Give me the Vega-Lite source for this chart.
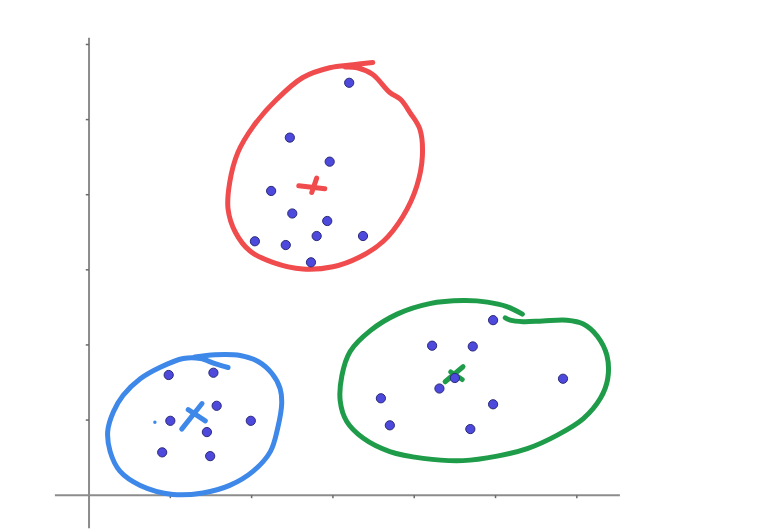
{
  "$schema": "https://vega.github.io/schema/vega-lite/v6.json",
  "autosize": {"type": "fit", "contains": "padding"},
  "width": 770,
  "height": 530,
  "padding": 0,
  "background": "white",
  "config": {"view": {"stroke": null}},
  "datasets": {
    "axes": [
      {"x": -0.42, "y": 0, "x2": 6.53, "y2": 0},
      {"x": 0, "y": -0.44, "x2": 0, "y2": 6.09}
    ],
    "ticks": [
      {"x": 1, "y": 0, "x2": 1, "y2": -0.04},
      {"x": 2, "y": 0, "x2": 2, "y2": -0.04},
      {"x": 3, "y": 0, "x2": 3, "y2": -0.04},
      {"x": 4, "y": 0, "x2": 4, "y2": -0.04},
      {"x": 5, "y": 0, "x2": 5, "y2": -0.04},
      {"x": 6, "y": 0, "x2": 6, "y2": -0.04},
      {"x": 0, "y": 1, "x2": -0.04, "y2": 1},
      {"x": 0, "y": 2, "x2": -0.04, "y2": 2},
      {"x": 0, "y": 3, "x2": -0.04, "y2": 3},
      {"x": 0, "y": 4, "x2": -0.04, "y2": 4},
      {"x": 0, "y": 5, "x2": -0.04, "y2": 5},
      {"x": 0, "y": 6, "x2": -0.04, "y2": 6}
    ],
    "loops": [
      {"cluster": "red", "i": 0, "x": 3.49, "y": 5.76},
      {"cluster": "red", "i": 1, "x": 3.25, "y": 5.73},
      {"cluster": "red", "i": 2, "x": 2.96, "y": 5.69},
      {"cluster": "red", "i": 3, "x": 2.63, "y": 5.56},
      {"cluster": "red", "i": 4, "x": 2.31, "y": 5.27},
      {"cluster": "red", "i": 5, "x": 2.02, "y": 4.91},
      {"cluster": "red", "i": 6, "x": 1.83, "y": 4.56},
      {"cluster": "red", "i": 7, "x": 1.73, "y": 4.16},
      {"cluster": "red", "i": 8, "x": 1.71, "y": 3.81},
      {"cluster": "red", "i": 9, "x": 1.80, "y": 3.50},
      {"cluster": "red", "i": 10, "x": 1.98, "y": 3.25},
      {"cluster": "red", "i": 11, "x": 2.26, "y": 3.10},
      {"cluster": "red", "i": 12, "x": 2.63, "y": 3.01},
      {"cluster": "red", "i": 13, "x": 3.00, "y": 3.04},
      {"cluster": "red", "i": 14, "x": 3.33, "y": 3.17},
      {"cluster": "red", "i": 15, "x": 3.62, "y": 3.38},
      {"cluster": "red", "i": 16, "x": 3.86, "y": 3.71},
      {"cluster": "red", "i": 17, "x": 4.03, "y": 4.11},
      {"cluster": "red", "i": 18, "x": 4.10, "y": 4.51},
      {"cluster": "red", "i": 19, "x": 4.07, "y": 4.87},
      {"cluster": "red", "i": 20, "x": 3.95, "y": 5.09},
      {"cluster": "red", "i": 21, "x": 3.83, "y": 5.27},
      {"cluster": "red", "i": 22, "x": 3.70, "y": 5.36},
      {"cluster": "red", "i": 23, "x": 3.49, "y": 5.60},
      {"cluster": "red", "i": 24, "x": 3.30, "y": 5.69},
      {"cluster": "red", "i": 25, "x": 3.15, "y": 5.70},
      {"cluster": "blue", "i": 0, "x": 1.71, "y": 1.70},
      {"cluster": "blue", "i": 1, "x": 1.55, "y": 1.75},
      {"cluster": "blue", "i": 2, "x": 1.37, "y": 1.82},
      {"cluster": "blue", "i": 3, "x": 1.16, "y": 1.82},
      {"cluster": "blue", "i": 4, "x": 0.87, "y": 1.70},
      {"cluster": "blue", "i": 5, "x": 0.63, "y": 1.55},
      {"cluster": "blue", "i": 6, "x": 0.42, "y": 1.33},
      {"cluster": "blue", "i": 7, "x": 0.30, "y": 1.11},
      {"cluster": "blue", "i": 8, "x": 0.23, "y": 0.85},
      {"cluster": "blue", "i": 9, "x": 0.26, "y": 0.58},
      {"cluster": "blue", "i": 10, "x": 0.38, "y": 0.32},
      {"cluster": "blue", "i": 11, "x": 0.63, "y": 0.13},
      {"cluster": "blue", "i": 12, "x": 1.03, "y": 0.01},
      {"cluster": "blue", "i": 13, "x": 1.40, "y": 0.03},
      {"cluster": "blue", "i": 14, "x": 1.73, "y": 0.13},
      {"cluster": "blue", "i": 15, "x": 2.02, "y": 0.32},
      {"cluster": "blue", "i": 16, "x": 2.23, "y": 0.58},
      {"cluster": "blue", "i": 17, "x": 2.32, "y": 0.89},
      {"cluster": "blue", "i": 18, "x": 2.37, "y": 1.22},
      {"cluster": "blue", "i": 19, "x": 2.35, "y": 1.42},
      {"cluster": "blue", "i": 20, "x": 2.25, "y": 1.62},
      {"cluster": "blue", "i": 21, "x": 2.08, "y": 1.78},
      {"cluster": "blue", "i": 22, "x": 1.86, "y": 1.86},
      {"cluster": "blue", "i": 23, "x": 1.55, "y": 1.87},
      {"cluster": "blue", "i": 24, "x": 1.30, "y": 1.84},
      {"cluster": "green", "i": 0, "x": 5.33, "y": 2.41},
      {"cluster": "green", "i": 1, "x": 5.14, "y": 2.51},
      {"cluster": "green", "i": 2, "x": 4.90, "y": 2.57},
      {"cluster": "green", "i": 3, "x": 4.60, "y": 2.59},
      {"cluster": "green", "i": 4, "x": 4.19, "y": 2.55},
      {"cluster": "green", "i": 5, "x": 3.79, "y": 2.41},
      {"cluster": "green", "i": 6, "x": 3.46, "y": 2.19},
      {"cluster": "green", "i": 7, "x": 3.21, "y": 1.91},
      {"cluster": "green", "i": 8, "x": 3.11, "y": 1.59},
      {"cluster": "green", "i": 9, "x": 3.09, "y": 1.25},
      {"cluster": "green", "i": 10, "x": 3.17, "y": 0.98},
      {"cluster": "green", "i": 11, "x": 3.37, "y": 0.76},
      {"cluster": "green", "i": 12, "x": 3.70, "y": 0.58},
      {"cluster": "green", "i": 13, "x": 4.11, "y": 0.49},
      {"cluster": "green", "i": 14, "x": 4.60, "y": 0.46},
      {"cluster": "green", "i": 15, "x": 5.02, "y": 0.52},
      {"cluster": "green", "i": 16, "x": 5.39, "y": 0.62},
      {"cluster": "green", "i": 17, "x": 5.76, "y": 0.80},
      {"cluster": "green", "i": 18, "x": 6.08, "y": 1.02},
      {"cluster": "green", "i": 19, "x": 6.29, "y": 1.29},
      {"cluster": "green", "i": 20, "x": 6.38, "y": 1.55},
      {"cluster": "green", "i": 21, "x": 6.37, "y": 1.86},
      {"cluster": "green", "i": 22, "x": 6.25, "y": 2.12},
      {"cluster": "green", "i": 23, "x": 6.08, "y": 2.28},
      {"cluster": "green", "i": 24, "x": 5.88, "y": 2.33},
      {"cluster": "green", "i": 25, "x": 5.58, "y": 2.32},
      {"cluster": "green", "i": 26, "x": 5.34, "y": 2.31},
      {"cluster": "green", "i": 27, "x": 5.18, "y": 2.33},
      {"cluster": "green", "i": 28, "x": 5.12, "y": 2.36}
    ],
    "crosses": [
      {"cluster": "blue", "x": 1.14, "y": 0.88, "x2": 1.39, "y2": 1.22},
      {"cluster": "blue", "x": 1.22, "y": 1.14, "x2": 1.43, "y2": 0.99},
      {"cluster": "red", "x": 2.58, "y": 4.12, "x2": 2.90, "y2": 4.08},
      {"cluster": "red", "x": 2.80, "y": 4.22, "x2": 2.74, "y2": 4.03},
      {"cluster": "green", "x": 4.38, "y": 1.51, "x2": 4.60, "y2": 1.71},
      {"cluster": "green", "x": 4.45, "y": 1.64, "x2": 4.59, "y2": 1.54}
    ],
    "points": [
      {"x": 1.00, "y": 0.99}, {"x": 1.57, "y": 1.19}, {"x": 1.99, "y": 0.99},
      {"x": 1.45, "y": 0.84}, {"x": 0.90, "y": 0.57}, {"x": 1.49, "y": 0.52},
      {"x": 0.98, "y": 1.60}, {"x": 1.53, "y": 1.63},
      {"x": 3.20, "y": 5.49}, {"x": 2.47, "y": 4.76}, {"x": 2.96, "y": 4.44},
      {"x": 2.24, "y": 4.05}, {"x": 2.50, "y": 3.75}, {"x": 2.93, "y": 3.65},
      {"x": 2.80, "y": 3.45}, {"x": 3.37, "y": 3.45}, {"x": 2.04, "y": 3.38},
      {"x": 2.42, "y": 3.33}, {"x": 2.73, "y": 3.10},
      {"x": 4.97, "y": 2.33}, {"x": 4.22, "y": 1.99}, {"x": 4.72, "y": 1.98},
      {"x": 5.83, "y": 1.55}, {"x": 4.50, "y": 1.56}, {"x": 4.31, "y": 1.42},
      {"x": 3.59, "y": 1.29}, {"x": 4.97, "y": 1.21}, {"x": 3.70, "y": 0.93},
      {"x": 4.69, "y": 0.88}
    ],
    "dot": [{"x": 0.81, "y": 0.97}]
  },
  "encoding": {
    "x": {"field": "x", "type": "quantitative", "axis": null, "scale": {"domain": [-1.095, 8.376], "nice": false, "zero": false}},
    "y": {"field": "y", "type": "quantitative", "axis": null, "scale": {"domain": [-0.397, 6.592], "nice": false, "zero": false}}
  },
  "layer": [
    {
      "data": {"name": "axes"},
      "mark": {"type": "rule", "color": "#8c8c8c", "strokeWidth": 2},
      "encoding": {"x2": {"field": "x2"}, "y2": {"field": "y2"}}
    },
    {
      "data": {"name": "ticks"},
      "mark": {"type": "rule", "color": "#6a6a6a", "strokeWidth": 1.5},
      "encoding": {"x2": {"field": "x2"}, "y2": {"field": "y2"}}
    },
    {
      "data": {"name": "loops"},
      "mark": {"type": "line", "strokeWidth": 5, "strokeCap": "round", "strokeJoin": "round", "interpolate": "catmull-rom"},
      "encoding": {
        "order": {"field": "i", "type": "quantitative"},
        "color": {"field": "cluster", "type": "nominal", "legend": null,
          "scale": {"domain": ["red", "green", "blue"], "range": ["#f04b4d", "#1f9c4a", "#3d88e8"]}}
      }
    },
    {
      "data": {"name": "crosses"},
      "mark": {"type": "rule", "strokeWidth": 5, "strokeCap": "round"},
      "encoding": {
        "x2": {"field": "x2"}, "y2": {"field": "y2"},
        "color": {"field": "cluster", "type": "nominal", "legend": null}
      }
    },
    {
      "data": {"name": "points"},
      "mark": {"type": "circle", "size": 85, "fill": "#4d49dd", "stroke": "#2b2a7a", "strokeWidth": 1, "opacity": 1}
    },
    {
      "data": {"name": "dot"},
      "mark": {"type": "circle", "size": 12, "fill": "#3d88e8", "opacity": 1}
    }
  ]
}
